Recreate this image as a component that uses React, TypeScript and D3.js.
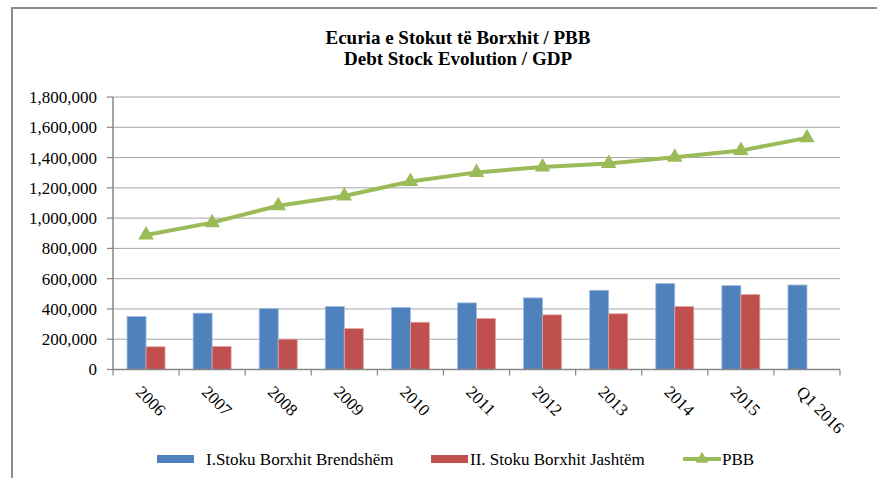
import * as d3 from "d3";

const categories = ["2006", "2007", "2008", "2009", "2010", "2011", "2012", "2013", "2014", "2015", "Q1 2016"];
const domesticStock = [350000, 372000, 402000, 416000, 410000, 440000, 473000, 523000, 567000, 554000, 558000];
const externalStock = [150000, 152000, 200000, 270000, 312000, 337000, 361000, 368000, 416000, 495000, null];
const gdp = [888000, 970000, 1082000, 1146000, 1242000, 1302000, 1337000, 1360000, 1402000, 1446000, 1530000];
const yTicks = [0, 200000, 400000, 600000, 800000, 1000000, 1200000, 1400000, 1600000, 1800000];

const seriesNames = ["I.Stoku Borxhit Brendshëm", "II. Stoku Borxhit Jashtëm", "PBB"];
const colors = ["#4f81bd", "#c0504d", "#9bbb59"];
const edgeColors = ["#9dbbe0", "#e0a3a1"];

const width = 877;
const height = 478;
const margin = { left: 113, right: 37, top: 97, bottom: 108.5 };
const font = "'Liberation Serif', 'Times New Roman', serif";

export default function App() {
  const x = d3
    .scaleBand()
    .domain(categories)
    .range([margin.left, width - margin.right])
    .padding(0);

  const x1 = d3
    .scaleBand()
    .domain(["dom", "ext"])
    .range([0, x.bandwidth()])
    .paddingInner(0)
    .paddingOuter(0.74);

  const y = d3
    .scaleLinear()
    .domain([0, 1800000])
    .range([height - margin.bottom, margin.top]);

  const fmt = d3.format(",");
  const line = d3
    .line<number>()
    .x((d, i) => x(categories[i])! + x.bandwidth() / 2)
    .y((d) => y(d));
  const tri = d3.symbol().type(d3.symbolTriangle).size(105)()!;
  const triSmall = d3.symbol().type(d3.symbolTriangle).size(70)()!;

  const x0 = margin.left;
  const x9 = width - margin.right;
  const yBase = y(0);

  return (
    <svg
      width={width}
      height={height}
      style={{ position: "absolute", left: 0, top: 0, background: "#fff" }}
      fontFamily={font}
    >
      {/* outer frame */}
      <rect x={12} y={8} width={950} height={560} fill="#fff" stroke="#8c8c8c" strokeWidth={2} />

      {/* title */}
      <text x={458} y={44} textAnchor="middle" fontSize={19} fontWeight="bold" fill="#000">
        Ecuria e Stokut të Borxhit / PBB
      </text>
      <text x={458} y={65} textAnchor="middle" fontSize={19} fontWeight="bold" fill="#000">
        Debt Stock Evolution / GDP
      </text>

      {/* gridlines */}
      {yTicks.slice(1).map((t) => (
        <line key={t} x1={x0} x2={x9} y1={y(t)} y2={y(t)} stroke="#a6a6a6" strokeWidth={1} />
      ))}

      {/* y axis */}
      <line x1={x0} x2={x0} y1={y(1800000)} y2={yBase} stroke="#868686" strokeWidth={1.5} />
      {yTicks.map((t) => (
        <g key={t}>
          <line x1={x0 - 6} x2={x0} y1={y(t)} y2={y(t)} stroke="#868686" strokeWidth={1.2} />
          <text x={97} y={y(t)} dy="0.35em" textAnchor="end" fontSize={17} fill="#000">
            {fmt(t)}
          </text>
        </g>
      ))}

      {/* bars */}
      {categories.map((c, i) => (
        <g key={c}>
          <rect
            x={x(c)! + x1("dom")!}
            y={y(domesticStock[i])}
            width={x1.bandwidth()}
            height={yBase - y(domesticStock[i])}
            fill={colors[0]}
            stroke={edgeColors[0]}
            strokeWidth={0.8}
          />
          {externalStock[i] !== null && (
            <rect
              x={x(c)! + x1("ext")!}
              y={y(externalStock[i]!)}
              width={x1.bandwidth()}
              height={yBase - y(externalStock[i]!)}
              fill={colors[1]}
              stroke={edgeColors[1]}
              strokeWidth={0.8}
            />
          )}
        </g>
      ))}

      {/* x axis */}
      <line x1={x0} x2={x9} y1={yBase} y2={yBase} stroke="#868686" strokeWidth={1.5} />
      {[...categories.map((c) => x(c)!), x9].map((px, i) => (
        <line key={i} x1={px} x2={px} y1={yBase} y2={yBase + 6} stroke="#868686" strokeWidth={1.2} />
      ))}
      {categories.map((c) => (
        <text
          key={c}
          transform={`translate(${x(c)! + x.bandwidth() / 2 - 3},${yBase + 15}) rotate(45)`}
          dy="0.7em"
          textAnchor="start"
          fontSize={17}
          fill="#000"
        >
          {c}
        </text>
      ))}

      {/* GDP line */}
      <path d={line(gdp)!} fill="none" stroke={colors[2]} strokeWidth={4} strokeLinejoin="round" />
      {gdp.map((v, i) => (
        <path
          key={i}
          d={tri}
          transform={`translate(${x(categories[i])! + x.bandwidth() / 2},${y(v)})`}
          fill={colors[2]}
        />
      ))}

      {/* legend */}
      <g fontSize={17} fill="#000">
        <rect x={157} y={455} width={37} height={8} fill={colors[0]} />
        <text x={206} y={465}>{seriesNames[0]}</text>
        <rect x={431} y={455} width={37} height={8} fill={colors[1]} />
        <text x={470} y={465}>{seriesNames[1]}</text>
        <line x1={683} x2={721} y1={459} y2={459} stroke={colors[2]} strokeWidth={4} />
        <path d={triSmall} transform="translate(702,459)" fill={colors[2]} />
        <text x={722} y={465}>{seriesNames[2]}</text>
      </g>
    </svg>
  );
}
